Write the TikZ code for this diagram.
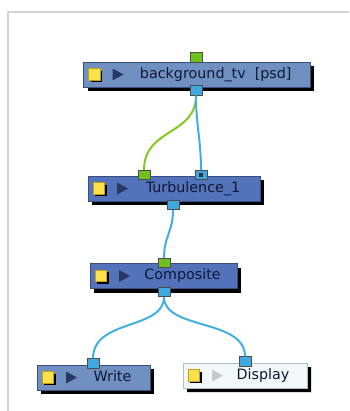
\documentclass[tikz,border=0pt]{standalone}
\usepackage{fontspec}
\setmainfont{DejaVu Sans}
\usetikzlibrary{shadows,shapes.misc}
\definecolor{nodeA}{RGB}{112,144,194}
\definecolor{nodeB}{RGB}{82,114,186}
\definecolor{nodeline}{RGB}{58,78,128}
\definecolor{portgreen}{RGB}{112,192,32}
\definecolor{portblue}{RGB}{64,168,224}
\definecolor{wiregreen}{RGB}{130,200,30}
\definecolor{wireblue}{RGB}{62,176,228}
\definecolor{iconyellow}{RGB}{250,226,72}
\definecolor{iconline}{RGB}{190,160,30}
\definecolor{tricol}{RGB}{40,55,100}
\definecolor{txtcol}{RGB}{16,24,52}
\definecolor{framegray}{RGB}{212,212,212}
\definecolor{dispfill}{RGB}{242,248,248}
\definecolor{displine}{RGB}{176,190,190}
\definecolor{disptri}{RGB}{196,200,204}
\newcommand\flownode[6]{%
  \node[nodebox, fill=#5, minimum width={#3-#2}] (#1) at ({(#2+#3)/2},#4) {};
  \node[iconbox] (#1icon) at ({#2+11},#4) {};
  \fill[tricol] ({#2+29},{#4-6}) -- ({#2+40},#4) -- ({#2+29},{#4+6}) -- cycle;
  \node[nodetext] (#1txt) at ({(#2+38+#3)/2},#4) {#6};
}
\begin{document}
\begin{tikzpicture}[x=1pt,y=-1pt,
  nodebox/.style={draw=nodeline, line width=0.8pt, minimum height=25pt, inner sep=0pt,
    drop shadow={shadow xshift=4pt, shadow yshift=-4pt, opacity=1, fill=black}},
  iconbox/.style={draw=iconline, fill=iconyellow, line width=0.6pt, minimum width=11.5pt, minimum height=11.5pt, inner sep=0pt,
    drop shadow={shadow xshift=2pt, shadow yshift=-2pt, opacity=1, fill=black}},
  nodetext/.style={text=txtcol, font=\fontsize{14.3}{16}\selectfont, inner sep=0pt, text height=10.5pt, text depth=3pt},
  portbox/.style={draw=black!70, line width=0.6pt, minimum width=12pt, minimum height=9.5pt, inner sep=0pt},
  wire/.style={line width=2pt},
]
\useasboundingbox (0,0) rectangle (349,411);
\draw[framegray, line width=1.6pt] (349,12) -- (8,12) -- (8,411);

\flownode{bg}{83.5}{310}{74.5}{nodeA}{background\_tv\hspace{9pt}[psd]}
\flownode{tb}{88}{260}{188.5}{nodeB}{Turbulence\_1}
\flownode{cp}{90}{237}{276}{nodeB}{Composite}
\flownode{wr}{37}{150}{377.5}{nodeA}{Write}

% Display node
\node[nodebox, draw=displine, fill=dispfill, chamfered rectangle, chamfered rectangle corners=north east,
  chamfered rectangle xsep=4pt, chamfered rectangle ysep=4pt, minimum width=124pt] (dp) at (245,375.5) {};
\node[iconbox] (dpicon) at (194,375.5) {};
\fill[disptri] (212,369.5) -- (223,375.5) -- (212,381.5) -- cycle;
\node[nodetext] (dptxt) at (263,375.5) {Display};

% ports
\node[portbox, fill=portgreen] (bgin) at (196,57.5) {};
\node[portbox, fill=portblue] (bgout) at (196,90.5) {};
\node[portbox, fill=portgreen] (tbin1) at (144,175) {};
\node[portbox, fill=portblue] (tbin2) at (201,175) {};
\fill[black!80] ([xshift=-1.7pt,yshift=-1.7pt]tbin2.center) rectangle ([xshift=1.7pt,yshift=1.7pt]tbin2.center);
\node[portbox, fill=portblue] (tbout) at (173,205) {};
\node[portbox, fill=portgreen] (cpin) at (164,263) {};
\node[portbox, fill=portblue] (cpout) at (164,292) {};
\node[portbox, fill=portblue] (wrin) at (93,363.5) {};
\node[portbox, fill=portblue] (dpin) at (245,361.5) {};

% wires
\draw[wire, wiregreen] (bgout.south) .. controls +(0,40) and +(0,-42) .. (tbin1.north);
\draw[wire, wireblue] (bgout.south) .. controls +(0,30) and +(0,-30) .. (tbin2.north);
\draw[wire, wireblue] (tbout.south) .. controls +(0,22) and +(0,-22) .. (cpin.north);
\draw[wire, wireblue] (cpout.south) .. controls +(0,33) and +(0,-40) .. (wrin.north);
\draw[wire, wireblue] (cpout.south) .. controls +(0,33) and +(0,-38) .. (dpin.north);
\end{tikzpicture}
\end{document}
